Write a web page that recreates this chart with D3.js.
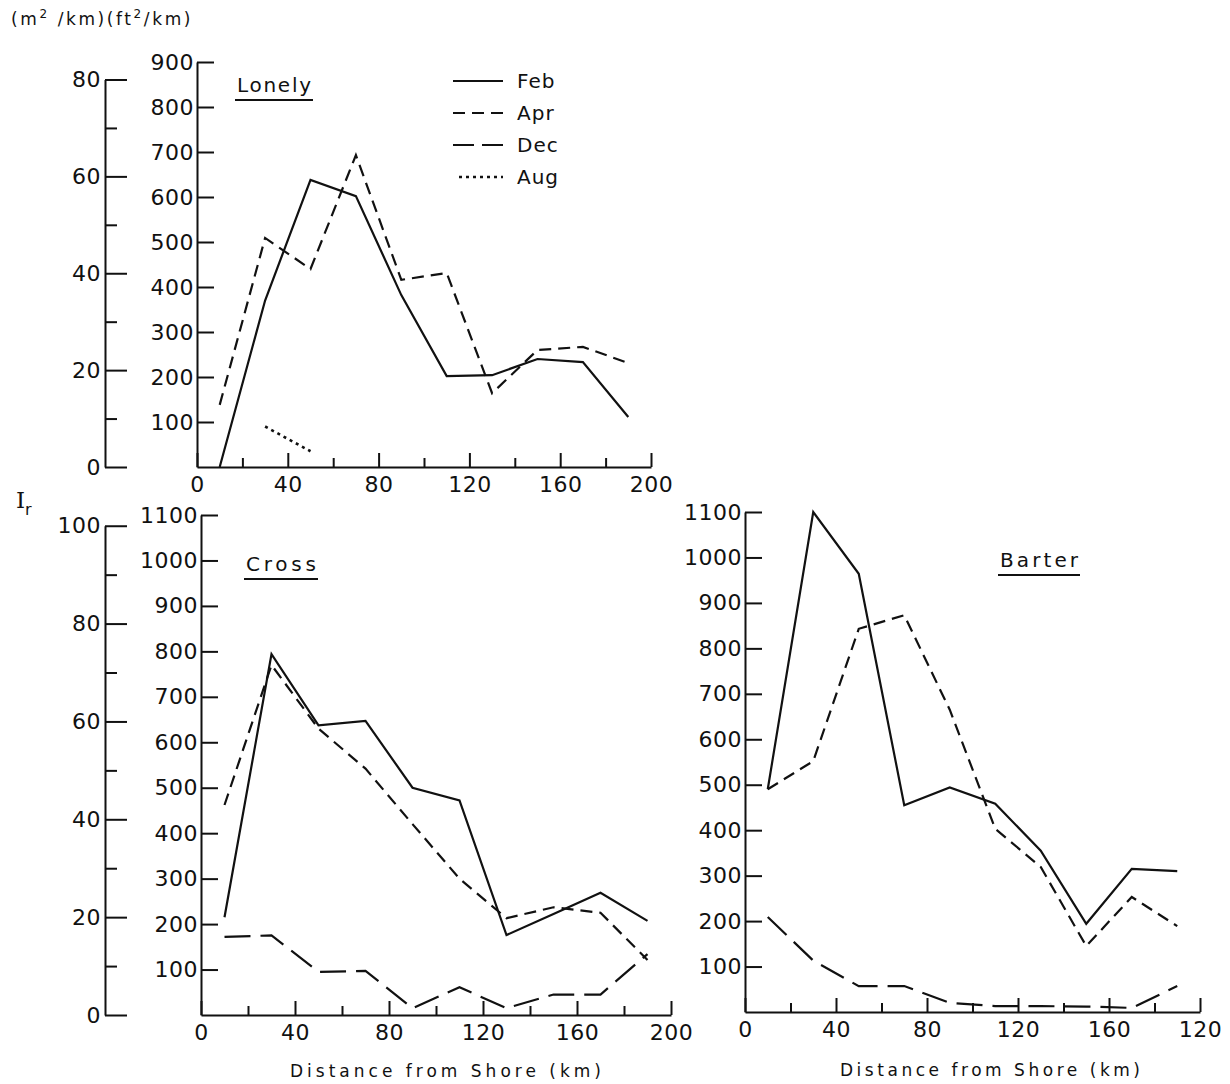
<!DOCTYPE html>
<html>
<head>
<meta charset="utf-8">
<title>Ir versus distance from shore</title>
<script src="https://d3js.org/d3.v7.min.js"></script>
<style>
  body { margin: 0; background: #fff; }
  svg text { font-family: "DejaVu Sans", sans-serif; fill: #111; }
</style>
</head>
<body>
<script>
// distances (km) where the values were read
var dist = [10, 30, 50, 70, 90, 110, 130, 150, 170, 190];

// Lonely (ft2/km)
var lonelyFeb = [0, 370, 638, 602, 382, 202, 204, 240, 233, 111];
var lonelyApr = [138, 509, 440, 693, 416, 431, 164, 260, 267, 231];
var lonelyAugDist = [30, 50];
var lonelyAug = [90, 35];

// Cross (ft2/km)
var crossFeb = [215, 794, 637, 647, 500, 472, 176, 222, 269, 207];
var crossApr = [462, 770, 630, 542, 420, 300, 213, 237, 225, 121];
var crossDec = [172, 175, 95, 97, 15, 61, 15, 45, 45, 134];

// Barter (ft2/km)
var barterFeb = [490, 1100, 964, 455, 494, 458, 355, 194, 315, 310];
var barterApr = [490, 552, 843, 873, 665, 403, 319, 145, 253, 189];
var barterDec = [209, 113, 57, 57, 20, 13, 13, 12, 9, 57];

// ticks
var xMajor = [0, 40, 80, 120, 160, 200];
var xMinor = [20, 60, 100, 140, 180];
var xLabels = ["0", "40", "80", "120", "160", "200"];
var barterXLabels = ["0", "40", "80", "120", "160", "120"]; // as printed
var legendNames = ["Feb", "Apr", "Dec", "Aug"];

var FT2_PER_M2 = 10.7639;

var dashes = { Feb: null, Apr: "12,7", Dec: "26,10", Aug: "3,4" };

var svg = d3.select("body").append("svg")
    .attr("width", 1230)
    .attr("height", 1084);

var panels = [
  {
    name: "Lonely", xr: [197, 651], yr: [467, 62], yMax: 900,
    yTicks: d3.range(100, 1000, 100),
    outer: { x: 105, max: 80, ticks: [0, 20, 40, 60, 80], minor: [10, 30, 50, 70] },
    title: [237, 92, 74], xLabels: xLabels,
    series: [
      { m: "Feb", xs: dist, ys: lonelyFeb },
      { m: "Apr", xs: dist, ys: lonelyApr },
      { m: "Aug", xs: lonelyAugDist, ys: lonelyAug }
    ]
  },
  {
    name: "Cross", xr: [201, 671], yr: [1015, 515], yMax: 1100,
    yTicks: d3.range(100, 1200, 100),
    outer: { x: 105, max: 100, ticks: [0, 20, 40, 60, 80, 100], minor: [10, 30, 50, 70, 90] },
    title: [246, 571, 70], xLabels: xLabels,
    series: [
      { m: "Feb", xs: dist, ys: crossFeb },
      { m: "Apr", xs: dist, ys: crossApr },
      { m: "Dec", xs: dist, ys: crossDec }
    ]
  },
  {
    name: "Barter", xr: [745, 1200], yr: [1012, 512], yMax: 1100,
    yTicks: d3.range(100, 1200, 100),
    outer: null,
    title: [1000, 567, 78], xLabels: barterXLabels,
    series: [
      { m: "Feb", xs: dist, ys: barterFeb },
      { m: "Apr", xs: dist, ys: barterApr },
      { m: "Dec", xs: dist, ys: barterDec }
    ]
  }
];

function styleAxis(g) {
    g.attr("font-family", null).attr("font-size", null);
    g.selectAll("path, line").attr("stroke", "#111").attr("stroke-width", 2);
    g.selectAll("text").style("font-size", "22px").style("letter-spacing", "0.5px");
}

panels.forEach(function(p) {
    var x = d3.scaleLinear().domain([0, 200]).range(p.xr);
    var y = d3.scaleLinear().domain([0, p.yMax]).range(p.yr);

    // x axis, ticks pointing up
    var gx = svg.append("g").attr("transform", "translate(0," + p.yr[0] + ")")
        .call(d3.axisBottom(x).tickValues(xMajor).tickSizeInner(-14).tickSizeOuter(0)
            .tickPadding(9).tickFormat(function(d, i) { return p.xLabels[i]; }));
    styleAxis(gx);
    var gxm = svg.append("g").attr("transform", "translate(0," + p.yr[0] + ")")
        .call(d3.axisBottom(x).tickValues(xMinor).tickSizeInner(-9).tickSizeOuter(0).tickFormat(""));
    gxm.select(".domain").remove();
    styleAxis(gxm);

    // inner axis ft2/km
    var gy = svg.append("g").attr("transform", "translate(" + p.xr[0] + ",0)")
        .call(d3.axisLeft(y).tickValues(p.yTicks).tickSizeInner(-17).tickSizeOuter(0)
            .tickPadding(3).tickFormat(d3.format("d")));
    styleAxis(gy);

    // outer axis m2/km
    if (p.outer) {
        var ym = d3.scaleLinear().domain([0, p.outer.max])
            .range([p.yr[0], y(p.outer.max * FT2_PER_M2)]);
        var go = svg.append("g").attr("transform", "translate(" + p.outer.x + ",0)")
            .call(d3.axisLeft(ym).tickValues(p.outer.ticks).tickSizeInner(-22).tickSizeOuter(0)
                .tickPadding(4).tickFormat(d3.format("d")));
        styleAxis(go);
        var gom = svg.append("g").attr("transform", "translate(" + p.outer.x + ",0)")
            .call(d3.axisLeft(ym).tickValues(p.outer.minor).tickSizeInner(-12).tickSizeOuter(0).tickFormat(""));
        gom.select(".domain").remove();
        styleAxis(gom);
    }

    // title with underline
    svg.append("text")
        .attr("x", p.title[0]).attr("y", p.title[1])
        .attr("textLength", p.title[2]).attr("lengthAdjust", "spacing")
        .style("font-size", "20px")
        .text(p.name);
    svg.append("line")
        .attr("x1", p.title[0] - 2).attr("x2", p.title[0] + p.title[2] + 2)
        .attr("y1", p.title[1] + 8).attr("y2", p.title[1] + 8)
        .attr("stroke", "#111").attr("stroke-width", 2);

    // data lines
    p.series.forEach(function(s) {
        var line = d3.line()
            .x(function(d, i) { return x(s.xs[i]); })
            .y(function(d) { return y(d); });
        svg.append("path")
            .attr("d", line(s.ys))
            .attr("fill", "none")
            .attr("stroke", "#111")
            .attr("stroke-width", s.m == "Aug" ? 2.6 : 2.2)
            .attr("stroke-dasharray", dashes[s.m]);
    });
});

// legend (top panel)
var legend = svg.selectAll(".legend")
    .data(legendNames)
    .enter().append("g")
    .attr("class", "legend")
    .attr("transform", function(d, i) { return "translate(0," + (81 + i * 32) + ")"; });

legend.append("line")
    .attr("x1", function(d) { return d == "Aug" ? 459 : 453; })
    .attr("x2", 503)
    .attr("stroke", "#111")
    .attr("stroke-width", function(d) { return d == "Aug" ? 2.6 : 2.2; })
    .attr("stroke-dasharray", function(d) { return d == "Dec" ? "21,8" : dashes[d]; });

legend.append("text")
    .attr("x", 517)
    .attr("dy", "0.36em")
    .style("font-size", "20px")
    .style("letter-spacing", "1px")
    .text(function(d) { return d; });

// unit header
var hdr = svg.append("text").attr("x", 11).attr("y", 25)
    .style("font-size", "17px").style("letter-spacing", "2.6px");
hdr.append("tspan").text("(m");
hdr.append("tspan").attr("dy", -7).style("font-size", "12px").text("2");
hdr.append("tspan").attr("dy", 7).text(" /km)(ft");
hdr.append("tspan").attr("dy", -7).style("font-size", "12px").text("2");
hdr.append("tspan").attr("dy", 7).text("/km)");

// I_r symbol
var ir = svg.append("text").attr("x", 16).attr("y", 508);
ir.append("tspan").style("font-family", "DejaVu Serif").style("font-size", "23px").text("I");
ir.append("tspan").attr("dy", 7).style("font-size", "16px").text("r");

// x axis titles
svg.append("text").attr("x", 290).attr("y", 1077)
    .attr("textLength", 311).attr("lengthAdjust", "spacing")
    .style("font-size", "17px").text("Distance from Shore (km)");
svg.append("text").attr("x", 840).attr("y", 1076)
    .attr("textLength", 300).attr("lengthAdjust", "spacing")
    .style("font-size", "17px").text("Distance from Shore (km)");
</script>
</body>
</html>
